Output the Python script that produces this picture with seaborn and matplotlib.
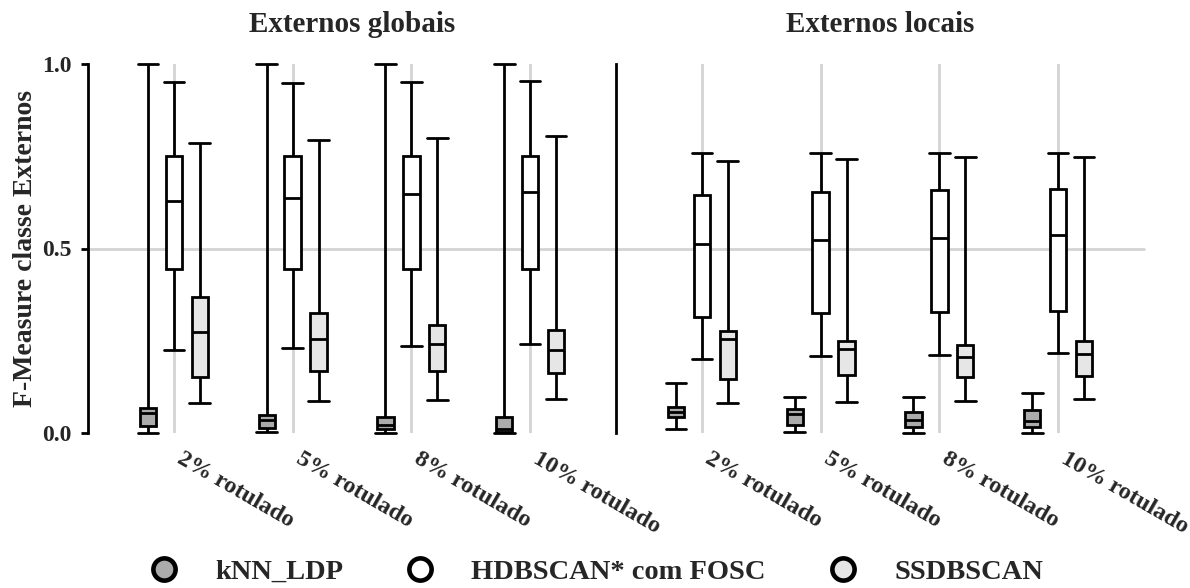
import numpy as np
import pandas as pd
import matplotlib
matplotlib.use("Agg")
import matplotlib.pyplot as plt
import matplotlib.transforms as mtransforms
from matplotlib.lines import Line2D
import seaborn as sns

# Labelled fractions and methods
labels = ["2% rotulado", "5% rotulado", "8% rotulado", "10% rotulado"]
methods = ["kNN_LDP", "HDBSCAN* com FOSC", "SSDBSCAN"]
panels = ["Externos globais", "Externos locais"]

# Five-number summaries (min, Q1, median, Q3, max) per fraction
global_knn = [
    [0.001, 0.020, 0.055, 0.068, 1.000],
    [0.002, 0.014, 0.035, 0.050, 1.000],
    [0.001, 0.011, 0.022, 0.043, 1.000],
    [0.001, 0.004, 0.012, 0.044, 1.000],
]
global_hdb = [
    [0.224, 0.444, 0.628, 0.750, 0.952],
    [0.229, 0.444, 0.636, 0.750, 0.949],
    [0.236, 0.444, 0.649, 0.750, 0.952],
    [0.241, 0.444, 0.653, 0.750, 0.955],
]
global_ssd = [
    [0.080, 0.153, 0.274, 0.369, 0.787],
    [0.086, 0.169, 0.254, 0.326, 0.794],
    [0.089, 0.167, 0.240, 0.292, 0.800],
    [0.091, 0.163, 0.225, 0.279, 0.806],
]
local_knn = [
    [0.011, 0.043, 0.056, 0.071, 0.135],
    [0.003, 0.022, 0.051, 0.066, 0.098],
    [0.001, 0.015, 0.036, 0.056, 0.097],
    [0.001, 0.015, 0.033, 0.062, 0.108],
]
local_hdb = [
    [0.200, 0.315, 0.511, 0.645, 0.760],
    [0.208, 0.324, 0.522, 0.653, 0.760],
    [0.211, 0.327, 0.528, 0.659, 0.760],
    [0.217, 0.331, 0.537, 0.660, 0.760],
]
local_ssd = [
    [0.080, 0.146, 0.255, 0.277, 0.737],
    [0.083, 0.157, 0.227, 0.248, 0.743],
    [0.088, 0.152, 0.205, 0.238, 0.749],
    [0.092, 0.154, 0.213, 0.249, 0.749],
]

colors = {"kNN_LDP": "#ababab", "HDBSCAN* com FOSC": "#ffffff", "SSDBSCAN": "#e6e6e6"}

summaries = {
    "Externos globais": [global_knn, global_hdb, global_ssd],
    "Externos locais": [local_knn, local_hdb, local_ssd],
}

rows = []
for panel, per_method in summaries.items():
    for method, stats in zip(methods, per_method):
        for label, five in zip(labels, stats):
            for v in five:
                rows.append((panel, label, method, v))
df = pd.DataFrame(rows, columns=["panel", "label", "method", "value"])

sns.set_theme(style="white")
plt.rcParams["font.family"] = ["Liberation Serif", "DejaVu Serif"]
plt.rcParams["font.weight"] = "bold"

fig = plt.figure(figsize=(11.9, 5.88), dpi=100)
ax_w = 528 / 1190
ax_b = 1 - 433 / 588
ax_h = 369 / 588
axes = [
    fig.add_axes([88 / 1190, ax_b, ax_w, ax_h]),
    fig.add_axes([616 / 1190, ax_b, ax_w, ax_h]),
]

# shift rotated category labels a little to the right
label_shift = mtransforms.ScaledTranslation(10 / 100, 0, fig.dpi_scale_trans)

for i, (ax, panel) in enumerate(zip(axes, panels)):
    sub = df[df["panel"] == panel]
    ax.axhline(0.5, color="#d4d4d4", lw=2, zorder=0)
    sns.boxplot(
        data=sub, x="label", y="value", hue="method",
        order=labels, hue_order=methods, palette=colors,
        saturation=1, width=0.655, gap=0.38, whis=(0, 100),
        linecolor="black", linewidth=2, fliersize=0,
        capwidths=0.17, legend=False, ax=ax, zorder=3,
    )
    ax.set_xlim(-0.72, 3.72)
    ax.set_ylim(0, 1)
    ax.grid(axis="x", color="#d4d4d4", lw=2, zorder=0)
    ax.grid(axis="y", visible=False)
    ax.set_axisbelow(True)
    for art in ax.lines + ax.patches:
        art.set_clip_on(False)
    ax.set_xlabel("")
    ax.set_title(panel, fontsize=21, fontweight="bold", pad=23)
    ax.tick_params(axis="x", length=0, pad=11)
    for t in ax.get_xticklabels():
        t.set_rotation(-30)
        t.set_rotation_mode("anchor")
        t.set_ha("left")
        t.set_va("top")
        t.set_fontsize(17.5)
        t.set_fontweight("bold")
        t.set_transform(t.get_transform() + label_shift)
    for s in ["top", "right", "bottom"]:
        ax.spines[s].set_visible(False)
    ax.spines["left"].set_color("black")
    ax.spines["left"].set_linewidth(2)
    if i == 0:
        ax.set_yticks([0, 0.5, 1.0])
        ax.set_yticklabels(["0.0", "0.5", "1.0"], fontsize=17, fontweight="bold")
        ax.tick_params(axis="y", length=5, width=2, color="black", pad=7, left=True)
        ax.set_ylabel("F-Measure classe Externos", fontsize=20, fontweight="bold", labelpad=3)
    else:
        ax.set_yticks([])
        ax.set_ylabel("")

handles = [
    Line2D([], [], marker="o", linestyle="", markersize=16,
           markerfacecolor=colors[m], markeredgecolor="black", markeredgewidth=3.3)
    for m in methods
]
fig.legend(handles, methods, loc="lower center", bbox_to_anchor=(0.5, -0.038),
           ncol=3, frameon=False, prop={"size": 20.5, "weight": "bold"},
           handlelength=1.2, handletextpad=1.2, columnspacing=2.1)

fig.savefig("out.png", dpi=100, facecolor="white")
